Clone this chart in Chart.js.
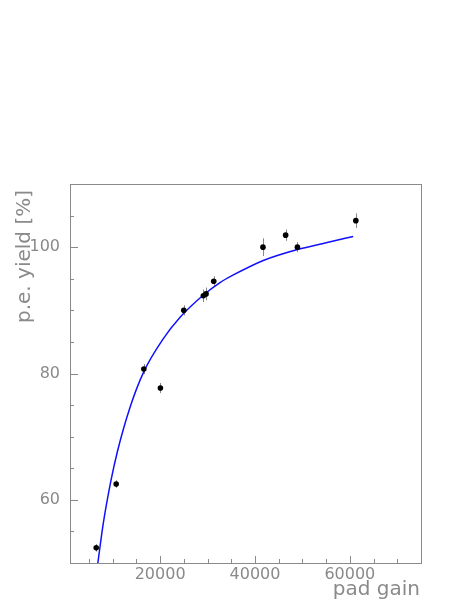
<!DOCTYPE html>
<html>
<head>
<meta charset="utf-8">
<script src="https://cdn.jsdelivr.net/npm/chart.js@4.4.0/dist/chart.umd.min.js"></script>
<style>
  html, body { margin: 0; padding: 0; background: #fff; }
  #wrap { width: 471px; height: 609px; }
</style>
</head>
<body>
<div id="wrap"><canvas id="chart" width="471" height="609"></canvas></div>
<script>
// measured points
const gain = [6526, 10737, 16568, 20063, 24989, 29116, 29684, 31305, 41684, 46463, 48947, 61263];
const yieldPct = [52.4, 62.5, 80.7, 77.7, 90.0, 92.3, 92.6, 94.6, 100.0, 101.9, 100.0, 104.2];
const yieldErr = [0.6, 0.6, 0.8, 0.8, 0.8, 1.0, 1.0, 0.8, 1.4, 0.9, 0.8, 1.15];

// fit curve
const fitGain = [6800, 8000, 9620, 11010, 13680, 16570, 20570, 24210, 29260, 32630, 35430, 41750, 48780, 55000, 60700];
const fitYield = [49.6, 56.2, 63.0, 67.7, 74.7, 80.3, 85.4, 88.9, 92.5, 94.4, 95.6, 97.9, 99.6, 100.7, 101.7];

// axis ticks
const xMinor = [5000, 10000, 15000, 20000, 25000, 30000, 35000, 40000, 45000, 50000, 55000, 60000, 65000, 70000];
const xMajor = [20000, 40000, 60000];
const yMajor = [60, 80, 100];

const grey = "#8a8a8a";
const FONT = "DejaVu Sans";

const rootFrame = {
  id: "rootFrame",
  beforeDatasetsDraw(chart) {
    // error bars
    const ctx = chart.ctx, xs = chart.scales.x, ys = chart.scales.y;
    ctx.save();
    ctx.strokeStyle = "#888";
    ctx.lineWidth = 1;
    gain.forEach((g, i) => {
      const px = Math.round(xs.getPixelForValue(g)) + 0.5;
      ctx.beginPath();
      ctx.moveTo(px, ys.getPixelForValue(yieldPct[i] - yieldErr[i]));
      ctx.lineTo(px, ys.getPixelForValue(yieldPct[i] + yieldErr[i]));
      ctx.stroke();
    });
    ctx.restore();
  },
  afterDraw(chart) {
    const ctx = chart.ctx, a = chart.chartArea, xs = chart.scales.x, ys = chart.scales.y;
    ctx.save();
    ctx.strokeStyle = grey;
    ctx.lineWidth = 1;
    ctx.strokeRect(Math.round(a.left) + 0.5, Math.round(a.top) + 0.5,
      Math.round(a.right - a.left), Math.round(a.bottom - a.top));

    // inward tick marks
    ctx.beginPath();
    xs.ticks.forEach(t => {
      const px = Math.round(xs.getPixelForValue(t.value)) + 0.5;
      const len = xMajor.includes(t.value) ? 7 : 4;
      ctx.moveTo(px, a.bottom);
      ctx.lineTo(px, a.bottom - len);
    });
    ys.ticks.forEach(t => {
      if (t.value <= ys.min || t.value >= ys.max) return;
      const py = Math.round(ys.getPixelForValue(t.value)) + 0.5;
      const len = yMajor.includes(t.value) ? 8 : 4;
      ctx.moveTo(a.left, py);
      ctx.lineTo(a.left + len, py);
    });
    ctx.stroke();

    // axis titles
    ctx.fillStyle = grey;
    ctx.font = "20px '" + FONT + "'";
    ctx.textAlign = "right";
    ctx.textBaseline = "alphabetic";
    ctx.fillText("pad gain", a.right - 1, 595);
    ctx.translate(30, a.top + 6);
    ctx.rotate(-Math.PI / 2);
    ctx.fillText("p.e. yield [%]", 0, 0);
    ctx.restore();
  }
};

new Chart(document.getElementById("chart"), {
  type: "scatter",
  data: {
    datasets: [
      {
        label: "data",
        data: gain.map((g, i) => ({ x: g, y: yieldPct[i] })),
        pointRadius: 2.8,
        pointBackgroundColor: "#000",
        pointBorderWidth: 0,
        showLine: false,
        order: 0
      },
      {
        label: "fit",
        type: "line",
        data: fitGain.map((g, i) => ({ x: g, y: fitYield[i] })),
        borderColor: "#1010ff",
        borderWidth: 1.5,
        pointRadius: 0,
        fill: false,
        cubicInterpolationMode: "monotone",
        order: 1
      }
    ]
  },
  options: {
    responsive: false,
    animation: false,
    devicePixelRatio: 1,
    layout: { padding: { left: 0, top: 184, right: 50, bottom: 0 } },
    plugins: { legend: { display: false }, tooltip: { enabled: false } },
    scales: {
      x: {
        type: "linear",
        min: 1000,
        max: 75000,
        grid: { display: false, drawTicks: false },
        border: { display: false },
        afterBuildTicks: s => { s.ticks = xMinor.map(v => ({ value: v })); },
        afterFit: s => { s.height = 46; },
        ticks: {
          autoSkip: false,
          maxRotation: 0,
          padding: 2,
          color: grey,
          font: { family: FONT, size: 16 },
          callback: v => xMajor.includes(v) ? String(v) : ""
        }
      },
      y: {
        type: "linear",
        min: 50,
        max: 110,
        grid: { display: false, drawTicks: false },
        border: { display: false },
        afterFit: s => { s.width = 70; },
        ticks: {
          stepSize: 5,
          autoSkip: false,
          padding: 10,
          color: grey,
          font: { family: FONT, size: 16 },
          callback: v => yMajor.includes(v) ? String(v) : ""
        }
      }
    }
  },
  plugins: [rootFrame]
});
</script>
</body>
</html>
